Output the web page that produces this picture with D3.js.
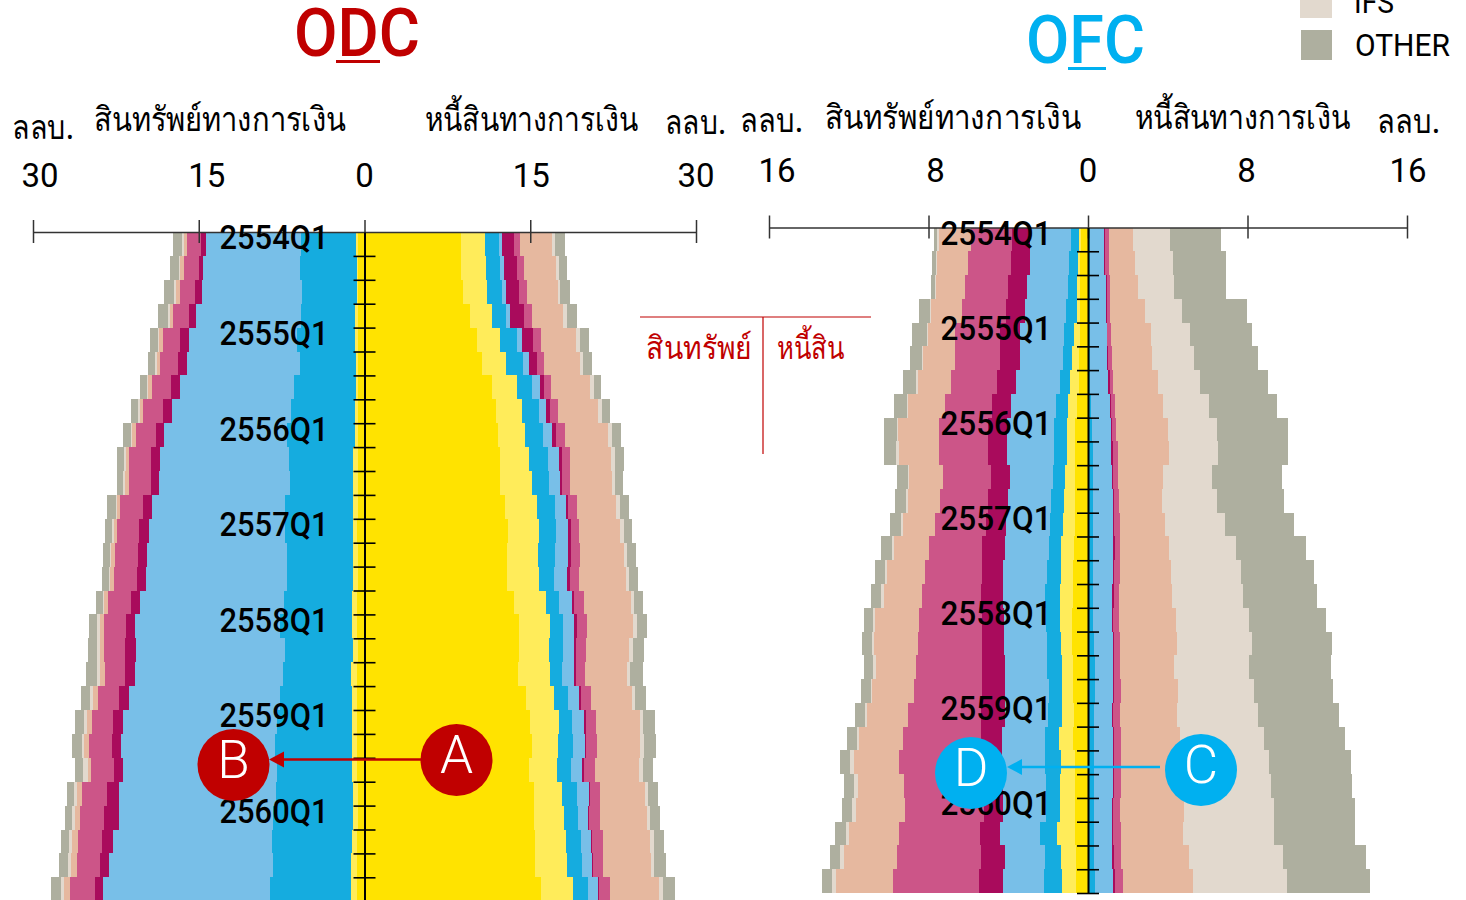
<!DOCTYPE html>
<html>
<head>
<meta charset="utf-8">
<script src="https://cdn.jsdelivr.net/npm/d3@7"></script>
<style>
  html, body { margin: 0; padding: 0; background: #fff; overflow: hidden; }
  text { font-family: Roboto, "Noto Sans", "Liberation Sans", "DejaVu Sans", sans-serif; font-weight: 500; }
</style>
</head>
<body>
<svg id="chart" width="1466" height="900"></svg>
<script>
var quarterLabels = ["2554Q1","2555Q1","2556Q1","2557Q1","2558Q1","2559Q1","2560Q1"];
var rowCount = 28;

var colors = {
  yellow: "#ffe300", paleYellow: "#ffec5a", blue: "#15acdf", lightBlue: "#78bfe8",
  darkMagenta: "#a90b5c", magenta: "#cc5588", peach: "#e6b89f", IFS: "#e2d9ce", OTHER: "#aeaf9f"
};

// ODC assets, ล้านล้าน per quarter (2554Q1 ... 2560Q4)
var odcAssetYellow = [.58,.55,.55,.58,.60,.60,.60,.60,.62,.62,.62,.62,.65,.62,.62,.65,.65,.62,.68,.65,.65,.65,.65,.60,.60,.65,.65,.65];
var odcAssetPale = [.19,.16,.16,.28,.26,.20,.20,.26,.24,.39,.39,.45,.42,.39,.39,.45,.45,.42,.54,.51,.51,.51,.48,.41,.41,.51,.57,.57];
var odcAssetBlue = [5.00,5.13,4.98,4.89,5.28,5.04,5.56,5.79,6.18,5.85,5.73,6.13,6.13,6.03,5.97,6.18,6.54,6.15,6.18,6.49,6.73,6.94,6.76,7.00,7.29,7.24,7.09,7.33];
var odcAssetLightBlue = [8.54,8.75,9.02,9.53,9.77,10.25,10.37,10.74,11.13,11.62,11.86,12.04,12.33,12.62,12.81,13.00,13.10,13.51,13.37,13.69,13.94,13.91,13.99,14.18,13.94,14.36,14.81,15.09];
var odcAssetDarkMagenta = [.48,.39,.63,.61,.79,.81,.81,.84,.72,.84,.72,.84,.88,.84,.81,.84,.87,.94,.88,.88,.93,.84,.76,1.14,1.36,1.02,.84,.78];
var odcAssetMagenta = [1.27,1.36,1.38,1.42,1.54,1.60,1.69,1.81,1.81,1.99,1.99,2.03,1.99,2.11,2.03,2.08,1.94,1.90,1.84,1.93,1.90,2.05,2.11,2.24,2.14,2.17,2.08,2.24];
var odcAssetPeach = [.32,.32,.33,.30,.32,.32,.32,.32,.33,.30,.36,.27,.30,.31,.39,.39,.39,.39,.41,.43,.45,.45,.30,.45,.48,.49,.49,.57];
var odcAssetIFS = [.11,.11,.15,.15,.11,.11,.14,.14,.12,.13,.15,.12,.13,.12,.06,.09,.30,.30,.29,.24,.27,.18,.45,.24,.24,.30,.30,.27];
var odcAssetOther = [.81,.84,.90,.93,.78,.69,.66,.61,.72,.69,.60,.79,.63,.61,.66,.61,.70,.76,1.02,.81,.81,.90,.72,.69,.66,.72,.81,.88];

// ODC liabilities
var odcLiabYellow = [8.73,8.73,8.91,9.55,10.18,10.63,11.54,11.90,12.08,12.26,12.26,12.71,12.99,12.90,12.90,13.53,13.98,13.98,13.89,14.59,14.98,15.16,14.89,15.34,15.34,15.43,15.43,15.97];
var odcLiabPale = [2.14,2.24,2.14,2.02,2.08,2.20,2.24,2.33,2.44,2.60,2.90,2.87,2.83,2.78,2.90,2.87,2.81,2.71,2.90,2.59,2.60,2.35,2.51,2.53,2.69,2.81,2.87,2.87];
var odcLiabBlue = [1.29,1.29,1.38,1.21,1.51,1.51,1.41,1.57,1.66,1.77,1.54,1.66,1.54,1.57,1.36,1.23,1.18,1.27,1.11,1.27,1.23,1.36,1.29,1.38,1.29,1.33,1.38,1.38];
var odcLiabLightBlue = [.30,.33,.36,.42,.48,.54,.67,.63,.81,.94,.97,1.00,1.06,1.18,1.18,1.12,1.02,1.02,1.06,1.00,1.06,1.09,1.02,1.03,.93,.96,.88,.88];
var odcLiabDarkMagenta = [1.06,1.20,1.20,1.27,1.02,.72,.42,.36,.33,.30,.21,.18,.27,.27,.27,.24,.24,.18,.18,.15,.18,.06,.13,.09,.06,.04,.09,.14];
var odcLiabMagenta = [.57,.63,.70,.70,.70,.63,.63,.72,.79,.72,.72,.81,.72,.81,.84,.90,.90,.88,.81,.90,.90,1.02,1.00,.93,.97,1.00,.96,.97];
var odcLiabPeach = [2.90,2.90,2.83,2.83,3.19,3.26,3.53,3.62,3.92,3.71,3.77,3.53,3.71,3.98,4.23,4.23,4.16,3.89,3.83,3.74,3.98,3.89,4.01,4.07,4.25,4.28,4.34,4.46];
var odcLiabIFS = [.24,.24,.18,.31,.31,.30,.31,.36,.33,.36,.30,.33,.33,.30,.30,.27,.33,.33,.24,.24,.30,.33,.33,.33,.30,.33,.27,.31];
var odcLiabOther = [.93,.81,.94,.93,.84,.76,.69,.75,.84,.81,.72,.84,.75,.79,.81,.81,.93,1.00,1.20,1.00,1.03,1.09,.96,.90,.93,.96,1.06,1.14];

// OFC assets
var ofcAssetYellow = [.35,.40,.40,.40,.40,.44,.47,.57,.64,.67,.67,.67,.67,.72,.74,.77,.79,.79,.77,.75,.72,.75,.65,.65,.65,.65,.60,.60];
var ofcAssetPale = [.09,.10,.14,.17,.29,.37,.42,.45,.43,.40,.47,.54,.60,.62,.62,.65,.63,.55,.54,.56,.59,.69,.72,.75,.75,.88,.75,.70];
var ofcAssetBlue = [.42,.45,.48,.52,.50,.45,.52,.60,.64,.65,.63,.64,.65,.62,.72,.74,.70,.72,.75,.66,.72,.72,.77,.73,.70,.88,.80,.90];
var ofcAssetLightBlue = [2.03,1.97,2.04,2.06,2.22,2.16,2.22,2.26,2.37,2.36,2.14,2.16,2.19,2.22,2.18,2.12,2.11,2.17,2.11,2.21,2.13,2.13,2.18,2.12,2.15,1.99,2.03,2.05];
var ofcAssetDarkMagenta = [.93,.95,.95,.95,1.00,1.00,.95,.94,.95,.94,.95,1.02,1.00,1.14,1.07,1.09,1.09,1.09,1.15,1.16,1.20,1.08,1.05,.98,.98,1.04,1.20,1.22];
var ofcAssetMagenta = [2.07,2.13,2.16,2.24,2.26,2.26,2.31,2.37,2.44,2.46,2.39,2.41,2.56,2.66,2.86,2.94,3.14,3.22,3.32,3.39,3.67,3.92,4.13,4.00,3.94,4.03,4.19,4.31];
var ofcAssetPeach = [1.59,1.58,1.47,1.54,1.37,1.59,1.65,1.86,2.04,2.01,1.71,1.60,1.59,1.74,1.87,1.94,2.22,2.19,1.99,2.08,2.03,2.19,2.24,2.33,2.47,2.51,2.67,2.85];
var ofcAssetIFS = [.10,.05,.04,.05,.05,.05,.09,.05,.08,.12,.08,.09,.10,.13,.14,.15,.09,.09,.15,.09,.11,.11,.18,.18,.18,.18,.22,.21];
var ofcAssetOther = [.14,.19,.20,.55,.72,.63,.64,.62,.62,.62,.52,.53,.55,.52,.50,.49,.47,.50,.48,.49,.52,.50,.50,.50,.50,.52,.48,.49];

// OFC liabilities
var ofcLiabBlue = [.12,.12,.12,.12,.12,.12,.12,.15,.19,.27,.27,.27,.27,.27,.27,.27,.27,.32,.33,.33,.32,.32,.32,.32,.32,.32,.32,.35];
var ofcLiabLightBlue = [.70,.70,.79,.79,.82,.84,.90,.94,.95,.87,.92,1.00,.97,.99,.97,.95,.95,.92,.92,.92,.89,.93,.93,.93,.89,.89,.89,.90];
var ofcLiabDarkMagenta = [.05,.04,.02,.04,.03,.04,.07,.05,.08,.10,.07,.05,.07,.07,.07,.07,.05,.05,.06,.04,.05,.04,.06,.04,.05,.05,.08,.11];
var ofcLiabMagenta = [.17,.19,.17,.17,.17,.18,.15,.20,.20,.25,.22,.24,.27,.29,.27,.28,.30,.32,.30,.36,.36,.36,.35,.37,.36,.39,.36,.38];
var ofcLiabPeach = [1.20,1.30,1.43,1.76,2.01,2.03,2.26,2.41,2.61,2.57,2.26,2.16,2.29,2.46,2.59,2.63,2.84,2.84,2.69,2.87,2.83,2.97,3.03,3.10,3.22,3.13,3.42,3.51];
var ofcLiabIFS = [1.87,1.89,1.79,1.84,1.97,2.09,2.12,2.32,2.46,2.47,2.49,2.76,3.02,3.34,3.51,3.58,3.65,3.78,3.76,3.80,4.09,4.19,4.41,4.44,4.48,4.57,4.69,4.74];
var ofcLiabOther = [2.57,2.66,2.59,3.27,3.11,3.24,3.41,3.41,3.55,3.51,3.51,3.36,3.43,3.53,3.65,3.73,3.88,4.00,4.13,3.98,4.03,4.06,4.08,4.05,4.06,4.05,4.16,4.16];

var keys9 = ["yellow","paleYellow","blue","lightBlue","darkMagenta","magenta","peach","IFS","OTHER"];
var keys7 = keys9.slice(2);

function table(keys, arrays) {
  return d3.range(rowCount).map(function(i) {
    var row = {};
    keys.forEach(function(k, j) { row[k] = arrays[j][i]; });
    return row;
  });
}

var svg = d3.select("#chart");

function bands(g, x, y, keys, rows, sign) {
  var series = d3.stack().keys(keys)(rows);
  g.append("g").selectAll("g").data(series).enter().append("g")
    .attr("fill", function(s) { return colors[s.key]; })
    .selectAll("rect").data(function(s) { return s; }).enter().append("rect")
      .attr("x", function(d) { return sign > 0 ? x(d[0]) : x(-d[1]); })
      .attr("width", function(d) { return Math.abs(x(d[1]) - x(d[0])); })
      .attr("y", function(d, i) { return y(i); })
      .attr("height", function(d, i) { return y(i + 1) - y(i); })
      .attr("shape-rendering", "crispEdges");
}

function label(str, x, baseline, size, color, width, anchor) {
  var t = svg.append("text")
    .attr("x", x).attr("y", baseline)
    .attr("font-size", size).attr("fill", color)
    .attr("text-anchor", anchor || "start")
    .text(str);
  if (width) t.attr("textLength", width).attr("lengthAdjust", "spacingAndGlyphs");
  return t;
}

function panel(p) {
  var x = d3.scaleLinear().domain([-p.max, p.max]).range(p.xRange);
  var y = d3.scaleLinear().domain([0, rowCount]).range(p.yRange);
  var g = svg.append("g");

  bands(g, x, y, p.assetKeys, p.assets, -1);
  bands(g, x, y, p.liabKeys, p.liabs, 1);

  g.append("g")
    .attr("transform", "translate(0," + p.yRange[0] + ")")
    .call(d3.axisTop(x).tickValues(p.ticks).tickSizeOuter(0).tickFormat(""))
    .call(function(a) {
      a.select(".domain").attr("stroke", "#333").attr("stroke-width", 1.5);
      a.selectAll(".tick line").attr("y1", -12).attr("y2", 11).attr("stroke", "#333").attr("stroke-width", 1.5);
    });

  p.ticks.forEach(function(v, i) {
    label(String(Math.abs(v)), x(v) + p.tickDx[i], p.tickBase, 33, "#000", null, "middle").style("font-weight", 400);
  });

  g.append("g")
    .attr("transform", "translate(" + x(0) + ",0)")
    .call(d3.axisLeft(y).tickValues(d3.range(1, rowCount + 1)).tickSizeOuter(0).tickFormat(""))
    .call(function(a) {
      a.select(".domain").attr("stroke", "#000").attr("stroke-width", 2);
      a.selectAll(".tick line").attr("x1", -11).attr("x2", 11).attr("stroke", "#000").attr("stroke-width", 1.6);
    });

  quarterLabels.forEach(function(q, i) {
    label(q, p.quarterX, y(i * 4) + 17.3, 33, "#000", p.quarterWidth);
  });
}

panel({
  max: 30, ticks: [-30,-15,0,15,30], tickDx: [7,8,0,1,0], tickBase: 187,
  xRange: [33, 696], yRange: [232, 232 + 28 * 23.9],
  quarterX: 219.5, quarterWidth: 109,
  assetKeys: keys9, liabKeys: keys9,
  assets: table(keys9, [odcAssetYellow,odcAssetPale,odcAssetBlue,odcAssetLightBlue,odcAssetDarkMagenta,odcAssetMagenta,odcAssetPeach,odcAssetIFS,odcAssetOther]),
  liabs: table(keys9, [odcLiabYellow,odcLiabPale,odcLiabBlue,odcLiabLightBlue,odcLiabDarkMagenta,odcLiabMagenta,odcLiabPeach,odcLiabIFS,odcLiabOther])
});

panel({
  max: 16, ticks: [-16,-8,0,8,16], tickDx: [8,7,0,-1,1], tickBase: 182,
  xRange: [769, 1407], yRange: [227.5, 893],
  quarterX: 940.5, quarterWidth: 111,
  assetKeys: keys9, liabKeys: keys7,
  assets: table(keys9, [ofcAssetYellow,ofcAssetPale,ofcAssetBlue,ofcAssetLightBlue,ofcAssetDarkMagenta,ofcAssetMagenta,ofcAssetPeach,ofcAssetIFS,ofcAssetOther]),
  liabs: table(keys7, [ofcLiabBlue,ofcLiabLightBlue,ofcLiabDarkMagenta,ofcLiabMagenta,ofcLiabPeach,ofcLiabIFS,ofcLiabOther])
});

// titles
var red = "#c00000", sky = "#00b0f0";
label("ODC", 294, 56, 66, red, 126);
svg.append("rect").attr("x", 336).attr("y", 60).attr("width", 44).attr("height", 3).attr("fill", red);
label("OFC", 1026, 63, 66, sky, 119);
svg.append("rect").attr("x", 1068).attr("y", 67).attr("width", 38).attr("height", 3).attr("fill", sky);

// column headings
label("ลลบ.", 12, 139, 34, "#000", 62);
label("สินทรัพย์ทางการเงิน", 94, 131, 34, "#000", 252);
label("หนี้สินทางการเงิน", 425, 131, 34, "#000", 213);
label("ลลบ.", 665, 134, 34, "#000", 61);
label("ลลบ.", 740, 132, 34, "#000", 63);
label("สินทรัพย์ทางการเงิน", 825, 129, 34, "#000", 256);
label("หนี้สินทางการเงิน", 1135, 129, 34, "#000", 215);
label("ลลบ.", 1377, 133, 34, "#000", 63);

// key in the middle
svg.append("line").attr("x1", 640).attr("x2", 871).attr("y1", 317).attr("y2", 317).attr("stroke", red).attr("stroke-width", 1.2);
svg.append("line").attr("x1", 763).attr("x2", 763).attr("y1", 317).attr("y2", 454).attr("stroke", red).attr("stroke-width", 1.2);
label("สินทรัพย์", 646, 359, 32, red, 106);
label("หนี้สิน", 777, 359, 32, red, 68);

// legend, cut by the top of the frame
svg.append("rect").attr("x", 1300).attr("y", -12).attr("width", 32).attr("height", 30).attr("fill", colors.IFS);
svg.append("rect").attr("x", 1301).attr("y", 30).attr("width", 31).attr("height", 30).attr("fill", colors.OTHER);
label("IFS", 1354, 13, 31, "#000", 40).style("font-weight", 400);
label("OTHER", 1355, 56, 31, "#000", 95).style("font-weight", 400);

// callouts
function callout(from, to, lineY, xStart, tip, color) {
  svg.append("line").attr("x1", xStart).attr("x2", tip + 14).attr("y1", lineY).attr("y2", lineY)
    .attr("stroke", color).attr("stroke-width", 2.6);
  svg.append("path")
    .attr("d", d3.line()([[tip, lineY], [tip + 15, lineY - 8], [tip + 15, lineY + 8]]) + "Z")
    .attr("fill", color);
  [from, to].forEach(function(c) {
    svg.append("circle").attr("cx", c.x).attr("cy", c.y).attr("r", 36).attr("fill", color);
    label(c.t, c.x, c.y + 12.5, 53, "#fff", null, "middle").style("font-weight", 300);
  });
}
callout({x: 456.5, y: 760, t: "A"}, {x: 233.5, y: 765, t: "B"}, 759.5, 421, 269, red);
callout({x: 1201, y: 770, t: "C"}, {x: 971, y: 773, t: "D"}, 767, 1160, 1007, sky);
</script>
</body>
</html>
